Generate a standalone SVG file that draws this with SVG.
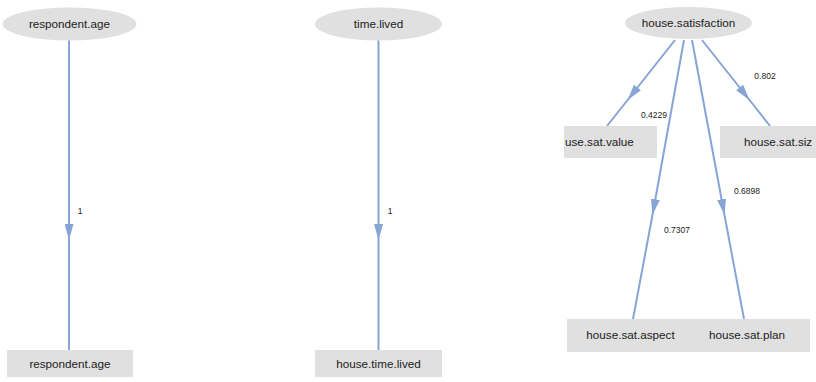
<svg xmlns="http://www.w3.org/2000/svg" width="816" height="382" viewBox="0 0 816 382">
<defs>
<style>
.ell{fill:#e0e0e0;stroke:none}
.box{fill:#e0e0e0;stroke:none}
.lbl{font-family:"Liberation Sans",Arial,sans-serif;font-size:11.7px;fill:#222;text-anchor:middle}
.lbl2{font-family:"Liberation Sans",Arial,sans-serif;font-size:11.7px;fill:#222;text-anchor:start}
.el{font-family:"Liberation Sans",Arial,sans-serif;font-size:8.5px;fill:#222;text-anchor:middle}
.edge{fill:none;stroke:#87a5d4;stroke-width:2;marker-mid:url(#arr)}
</style>
<marker id="arr" viewBox="0 0 16 9" refX="16" refY="4.5" markerWidth="16" markerHeight="9" markerUnits="userSpaceOnUse" orient="auto">
<path d="M0,0 L16,4.5 L0,9 Z" fill="#87a5d4"/>
</marker>
</defs>
<g id="edges">
<path class="edge" d="M69,40 L69,240 L69,350"/>
<path class="edge" d="M378.5,40 L378.5,240 L378.5,350"/>
<path class="edge" d="M675,40 L627.6,100 L607,126"/>
<path class="edge" d="M702,40 L749.5,100 L770,126"/>
<path class="edge" d="M684,40 L652.5,215 L633,319"/>
<path class="edge" d="M692,40 L724.5,215 L744,319"/>
<text class="el" x="80" y="214">1</text>
<text class="el" x="390" y="214">1</text>
<text class="el" x="765" y="79">0.802</text>
<text class="el" x="654" y="118">0.4229</text>
<text class="el" x="747" y="194">0.6898</text>
<text class="el" x="677" y="233">0.7307</text>
</g>
<g id="n_respondent_age_lat">
<ellipse class="ell" cx="69.5" cy="24" rx="67" ry="16.5"/>
<text class="lbl" x="69.5" y="28">respondent.age</text>
</g>
<g id="n_time_lived">
<ellipse class="ell" cx="378.5" cy="24" rx="63.5" ry="16.5"/>
<text class="lbl" x="378.5" y="28">time.lived</text>
</g>
<g id="n_house_satisfaction">
<ellipse class="ell" cx="688.5" cy="23" rx="63.5" ry="16"/>
<text class="lbl" x="688.5" y="27">house.satisfaction</text>
</g>
<g id="n_respondent_age">
<rect class="box" x="7" y="350" width="126" height="27"/>
<text class="lbl" x="70" y="368">respondent.age</text>
</g>
<g id="n_house_time_lived">
<rect class="box" x="315" y="350" width="127" height="27"/>
<text class="lbl" x="378.5" y="368">house.time.lived</text>
</g>
<g id="n_house_sat_value">
<rect class="box" x="564" y="126" width="93" height="32"/>
<text class="lbl2" x="565" y="146">use.sat.value</text>
</g>
<g id="n_house_sat_size">
<rect class="box" x="720" y="126" width="96" height="32"/>
<text class="lbl2" x="744" y="146">house.sat.siz</text>
</g>
<g id="n_house_sat_aspect">
<rect class="box" x="567" y="319" width="119" height="33"/>
<text class="lbl" x="630.5" y="339">house.sat.aspect</text>
</g>
<g id="n_house_sat_plan">
<rect class="box" x="685" y="319" width="125" height="33"/>
<text class="lbl" x="747" y="339">house.sat.plan</text>
</g>
</svg>
